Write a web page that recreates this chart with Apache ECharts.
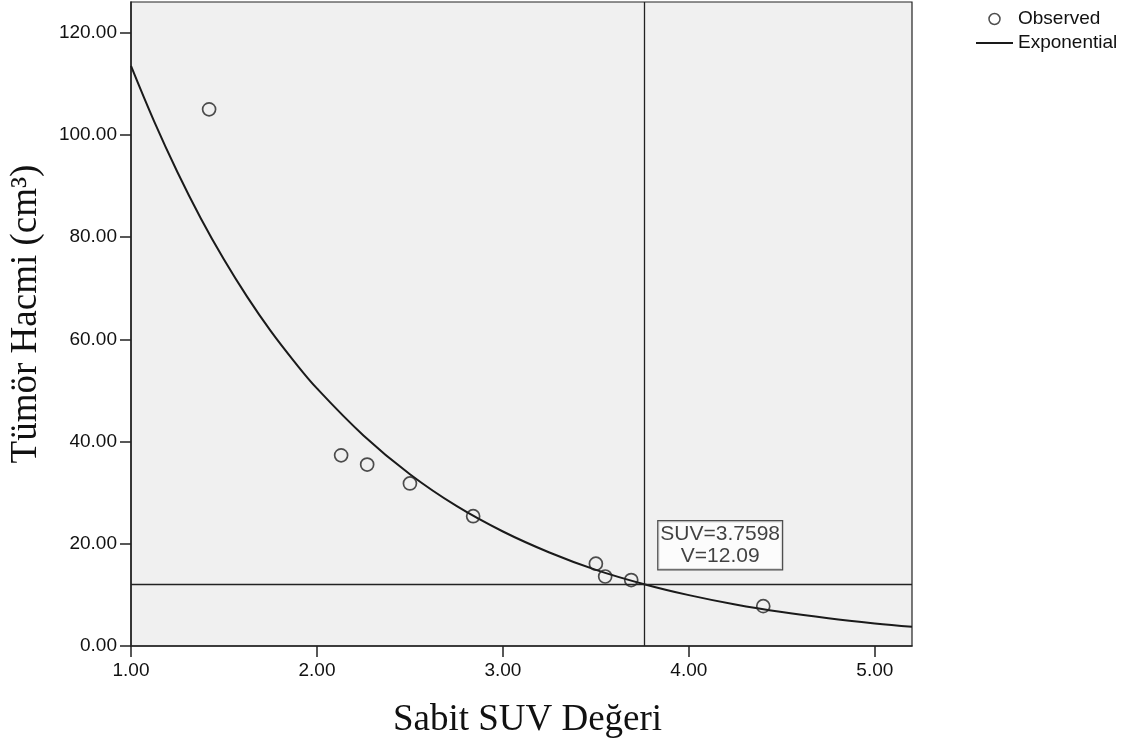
<!DOCTYPE html>
<html>
<head>
<meta charset="utf-8">
<title>Tümör Hacmi - Sabit SUV</title>
<script src="https://cdn.jsdelivr.net/npm/echarts@6/dist/echarts.min.js"></script>
<style>
  html, body { margin: 0; padding: 0; background: #ffffff; }
  #chart { width: 1135px; height: 744px; }
</style>
</head>
<body>
<div id="chart"></div>
<script>
// Observed measurements: fixed SUV value vs. tumour volume (cm³)
const observedSUV    = [1.42, 2.13, 2.27, 2.50, 2.84, 3.50, 3.55, 3.69, 4.40];
const observedVolume = [105.0, 37.3, 35.5, 31.8, 25.4, 16.1, 13.6, 12.9, 7.8];

// Exponential fit curve, sampled along the SUV range
const curveSUV    = [1.00, 1.125, 1.25, 1.375, 1.50, 1.625, 1.75, 1.875, 2.00, 2.25, 2.50, 2.75, 3.00, 3.25, 3.50, 3.7598, 4.00, 4.25, 4.50, 4.75, 5.00, 5.20];
const curveVolume = [113.5, 102.6, 92.7, 83.7, 75.6, 68.3, 61.7, 55.8, 50.4, 41.2, 33.6, 27.4, 22.4, 18.3, 14.9, 12.09, 9.95, 8.12, 6.63, 5.42, 4.42, 3.75];

// Cut-off point on the fitted curve
const cutoffSUV = 3.7598;
const cutoffVolume = 12.09;

// Axis ticks
const xTicks = [1, 2, 3, 4, 5];
const yTicks = [0, 20, 40, 60, 80, 100, 120];

const observedData = observedSUV.map((x, i) => [x, observedVolume[i]]);
const curveData = curveSUV.map((x, i) => [x, curveVolume[i]]);

const chart = echarts.init(document.getElementById('chart'), null, { renderer: 'canvas' });

const tickFont = { fontFamily: 'Liberation Sans, Arial, sans-serif', fontSize: 19, color: '#111' };
const titleFont = { fontFamily: 'Liberation Serif, Times New Roman, serif', fontSize: 37, color: '#111' };

chart.setOption({
  animation: false,
  backgroundColor: '#ffffff',
  grid: {
    left: 131, top: 2, width: 781, height: 644,
    show: true,
    backgroundColor: '#f0f0f0',
    borderColor: '#222',
    borderWidth: 1.2
  },
  legend: {
    orient: 'vertical',
    left: 976,
    top: 9,
    padding: 0,
    itemWidth: 37,
    itemHeight: 11,
    itemGap: 4,
    textStyle: { fontFamily: 'Liberation Sans, Arial, sans-serif', fontSize: 19, lineHeight: 20, color: '#111' },
    data: [
      {
        name: 'Observed',
        icon: 'circle',
        itemStyle: { color: 'rgba(0,0,0,0)', borderColor: '#222', borderWidth: 1.5 }
      },
      {
        name: 'Exponential',
        icon: 'path://M0,0 L37,0 L37,2 L0,2 Z',
        itemStyle: { color: '#1a1a1a', borderWidth: 0 }
      }
    ]
  },
  xAxis: {
    type: 'value',
    min: 1,
    max: 5.2,
    interval: 1,
    name: 'Sabit SUV Değeri',
    nameLocation: 'middle',
    nameGap: 56,
    nameTextStyle: { ...titleFont, padding: [0, 0, 0, 12] },
    axisLine: { show: true, onZero: false, lineStyle: { color: '#222', width: 1.5 } },
    axisTick: { show: true, length: 11, customValues: xTicks, lineStyle: { color: '#222', width: 1.5 } },
    axisLabel: {
      customValues: xTicks,
      margin: 15,
      formatter: v => v.toFixed(2),
      ...tickFont
    },
    splitLine: { show: false }
  },
  yAxis: {
    type: 'value',
    min: 0,
    max: 126,
    interval: 20,
    name: 'Tümör Hacmi (cm³)',
    nameLocation: 'middle',
    nameGap: 86,
    nameTextStyle: { ...titleFont, padding: [0, 0, 0, 20] },
    axisLine: { show: true, onZero: false, lineStyle: { color: '#222', width: 1.5 } },
    axisTick: { show: true, length: 11, customValues: yTicks, lineStyle: { color: '#222', width: 1.5 } },
    axisLabel: {
      customValues: yTicks,
      margin: 14,
      formatter: v => v.toFixed(2),
      ...tickFont
    },
    splitLine: { show: false }
  },
  series: [
    {
      name: 'Exponential',
      type: 'line',
      data: curveData,
      smooth: 0.4,
      symbol: 'none',
      showSymbol: false,
      lineStyle: { color: '#1a1a1a', width: 2 },
      itemStyle: { color: '#1a1a1a' },
      z: 3,
      markLine: {
        silent: true,
        symbol: ['none', 'none'],
        label: { show: false },
        lineStyle: { color: '#222', width: 1.3, type: 'solid' },
        data: [
          { xAxis: cutoffSUV },
          { yAxis: cutoffVolume }
        ]
      }
    },
    {
      name: 'Observed',
      type: 'scatter',
      data: observedData,
      symbol: 'circle',
      symbolSize: 13,
      itemStyle: { color: 'rgba(0,0,0,0)', borderColor: '#222', borderWidth: 1.7 },
      z: 4
    },
    {
      name: 'Cutoff',
      type: 'scatter',
      data: [[cutoffSUV, cutoffVolume]],
      symbolSize: 0,
      silent: true,
      z: 5,
      label: {
        show: true,
        position: 'inside',
        offset: [76, -39],
        formatter: () => 'SUV=' + cutoffSUV + '\nV=' + cutoffVolume.toFixed(2),
        align: 'center',
        fontFamily: 'Liberation Sans, Arial, sans-serif',
        fontSize: 21,
        lineHeight: 22,
        color: '#111',
        backgroundColor: '#ffffff',
        borderColor: '#222',
        borderWidth: 1.2,
        padding: [2, 2, 2, 2]
      }
    }
  ]
});
</script>
</body>
</html>
